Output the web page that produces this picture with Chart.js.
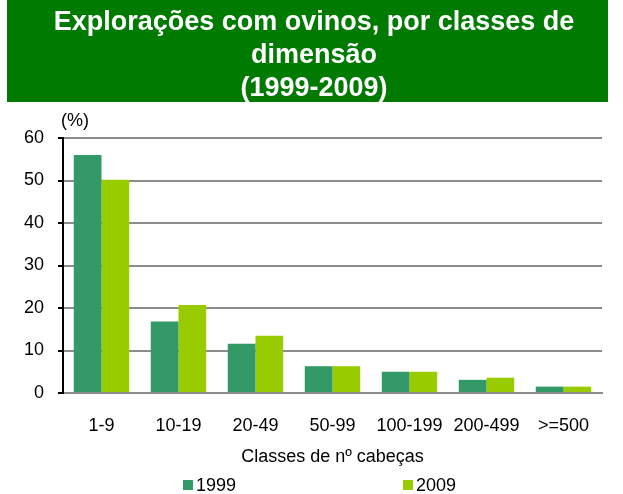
<!DOCTYPE html>
<html>
<head>
<meta charset="utf-8">
<script src="https://cdn.jsdelivr.net/npm/chart.js@4"></script>
<style>
  body { margin: 0; background: #fff; }
  #wrap { width: 623px; height: 494px; }
</style>
</head>
<body>
<div id="wrap"><canvas id="myChart" width="623" height="494"></canvas></div>
<script>
const categories = ["1-9", "10-19", "20-49", "50-99", "100-199", "200-499", ">=500"];
const values1999 = [56, 16.8, 11.6, 6.3, 5.0, 3.1, 1.5];
const values2009 = [50.2, 20.7, 13.5, 6.3, 5.0, 3.6, 1.5];
const titleLines = ["Explorações com ovinos, por classes de", "dimensão", "(1999-2009)"];

const darkGreen = "#339966";
const limeGreen = "#99cc00";
const fontName = "'Liberation Sans', Arial, sans-serif";

// green banner with the title, (%) label and the spread-out legend
const decorations = {
    id: "decorations",
    beforeDraw(chart) {
        const c = chart.ctx;
        c.save();
        c.fillStyle = "#007a00";
        c.fillRect(7, 0, 601, 102);
        c.fillStyle = "#fff";
        c.font = "bold 27px " + fontName;
        c.textAlign = "center";
        c.textBaseline = "middle";
        titleLines.forEach((line, i) => {
            c.fillText(line, 314, 22.5 + i * 33);
        });
        c.restore();
    },
    afterDraw(chart) {
        const c = chart.ctx;
        const y = chart.scales.y;
        c.save();
        c.fillStyle = "#000";
        c.font = "18px " + fontName;
        c.textAlign = "left";
        c.textBaseline = "middle";
        c.fillText("(%)", y.right - 2, 121);

        const legendX = [183, 403];
        chart.data.datasets.forEach((ds, i) => {
            c.fillStyle = ds.backgroundColor;
            c.fillRect(legendX[i], 480, 10, 10);
            c.fillStyle = "#000";
            c.fillText(ds.label, legendX[i] + 13, 486);
        });
        c.restore();
    }
};

const ctx = document.getElementById("myChart");

new Chart(ctx, {
    type: "bar",
    data: {
        labels: categories,
        datasets: [
            {
                label: "1999",
                data: values1999,
                backgroundColor: darkGreen,
            },
            {
                label: "2009",
                data: values2009,
                backgroundColor: limeGreen,
            },
        ],
    },
    options: {
        responsive: false,
        animation: false,
        layout: {
            padding: { top: 138, left: 0, right: 21, bottom: 26 },
        },
        categoryPercentage: 0.72,
        barPercentage: 1,
        scales: {
            x: {
                grid: { display: false, drawTicks: false },
                border: { color: "#8c8c8c", width: 2 },
                ticks: {
                    color: "#000",
                    padding: 22,
                    font: { family: fontName, size: 18 },
                },
                title: {
                    display: true,
                    text: "Classes de nº cabeças",
                    color: "#000",
                    font: { family: fontName, size: 18 },
                    padding: { top: 0, bottom: 0 },
                },
                afterFit(scale) {
                    scale.height = 75;
                },
            },
            y: {
                min: 0,
                max: 60,
                ticks: {
                    stepSize: 10,
                    color: "#000",
                    padding: 14,
                    font: { family: fontName, size: 18 },
                },
                grid: {
                    color: "#8c8c8c",
                    lineWidth: 2,
                    tickColor: "#000",
                    tickLength: 5,
                },
                border: { color: "#000", width: 2 },
                afterFit(scale) {
                    scale.width = 63;
                },
            },
        },
        plugins: {
            legend: { display: false },
            tooltip: { enabled: false },
            title: { display: false },
        },
    },
    plugins: [decorations],
});
</script>
</body>
</html>
